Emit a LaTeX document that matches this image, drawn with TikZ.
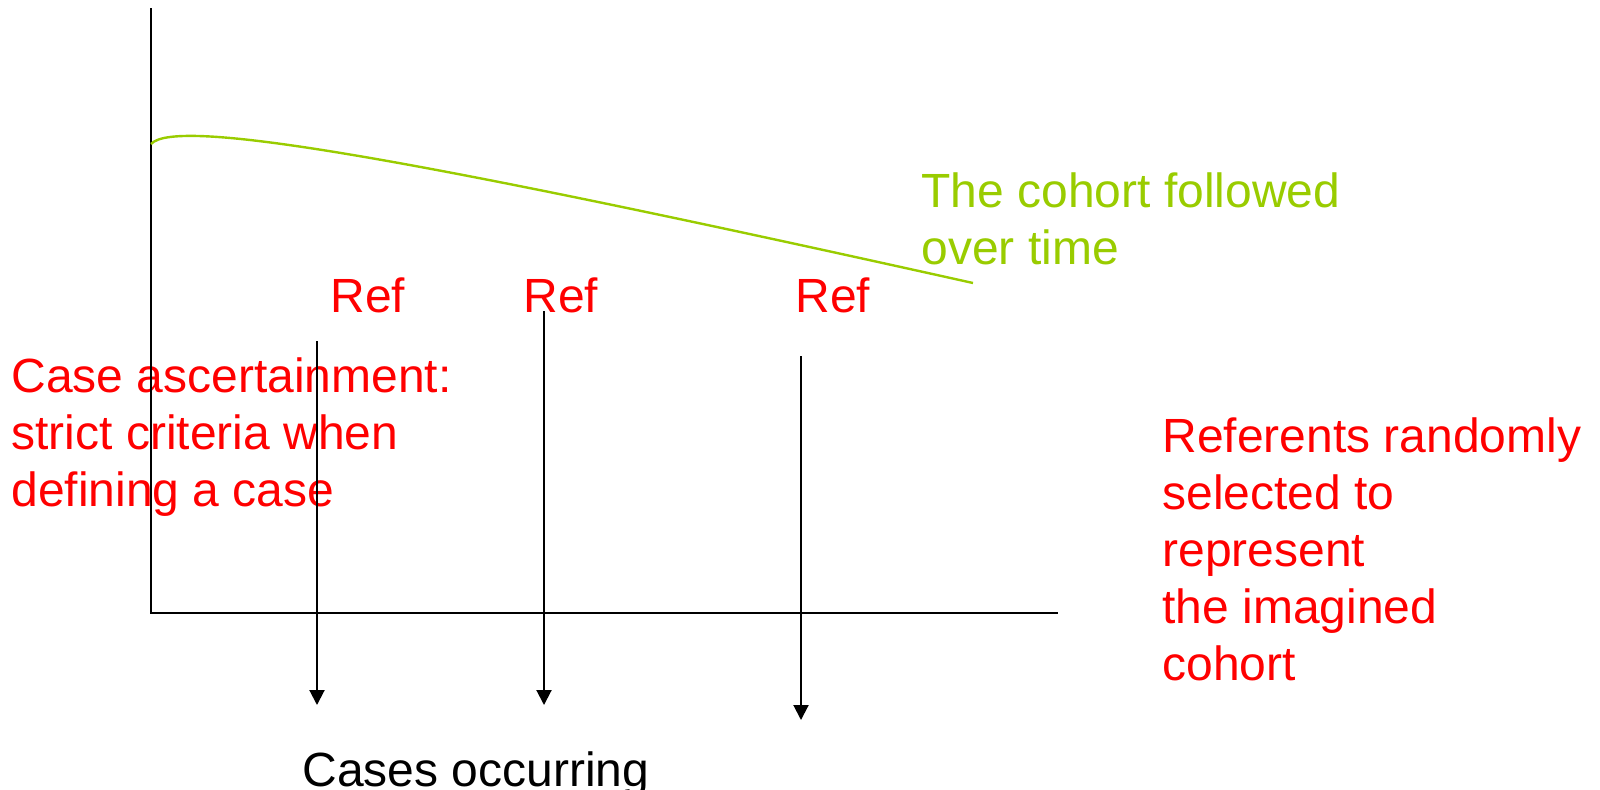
\documentclass[tikz,border=0pt]{standalone}
\usepackage{fontspec}
\setmainfont{Liberation Sans}
\usepackage{tikz}
\usetikzlibrary{arrows,arrows.meta}
\definecolor{cohortgreen}{RGB}{153,204,0}
\tikzstyle{txt} = [inner sep=0pt, font=\fontsize{24}{28.5}\selectfont]
\tikzstyle{redtxt} = [style={txt,text=red,align=left}]
\tikzstyle{grntxt} = [style={txt,text=cohortgreen,align=left}]
\tikzstyle{blktxt} = [style={txt,text=black}]
\tikzstyle{axl} = [style={draw=black,line width=1pt}]
\tikzstyle{dwn} = [style={-{Triangle[length=7.5pt,width=7.5pt]},draw=black,line width=1pt}]
\tikzstyle{coh} = [style={draw=cohortgreen,line width=1.2pt}]

\begin{document}
\begin{tikzpicture}[x=0.5pt,y=-0.5pt]
  \useasboundingbox (0,0) rectangle (1600,789);
  \begin{scope}
    % texts
    \node[grntxt, anchor=north west] (cohort) at (921,172) {The cohort followed\\over time};
    \node[redtxt, anchor=base west] (ref1) at (330,312) {Ref};
    \node[redtxt, anchor=base west] (ref2) at (523,312) {Ref};
    \node[redtxt, anchor=base west] (ref3) at (795,312) {Ref};
    \node[redtxt, anchor=north west] (ascert) at (11,357) {Case ascertainment:\\strict criteria when\\defining a case};
    \node[redtxt, anchor=north west] (referents) at (1162,417) {Referents randomly\\selected to\\represent\\the imagined\\cohort};
    \node[blktxt, anchor=base west] (cases) at (302,786) {Cases occurring};
    % axes
    \coordinate (ytop) at (151,8);
    \coordinate (orig) at (151,613);
    \coordinate (xend) at (1058,613);
    \draw[axl] (ytop) -- (orig) -- (xend);
    % cohort line
    \coordinate (c0) at (151,144);
    \coordinate (c1) at (973,283);
    \draw[coh] (c0) .. controls (176,116) and (420,160) .. (c1);
    % cases arrows
    \coordinate (a1) at (317,341);
    \coordinate (b1) at (317,705);
    \coordinate (a2) at (544,311);
    \coordinate (b2) at (544,705);
    \coordinate (a3) at (801,356);
    \coordinate (b3) at (801,720);
    \draw[dwn] (a1) -- (b1);
    \draw[dwn] (a2) -- (b2);
    \draw[dwn] (a3) -- (b3);
  \end{scope}
\end{tikzpicture}
\end{document}
